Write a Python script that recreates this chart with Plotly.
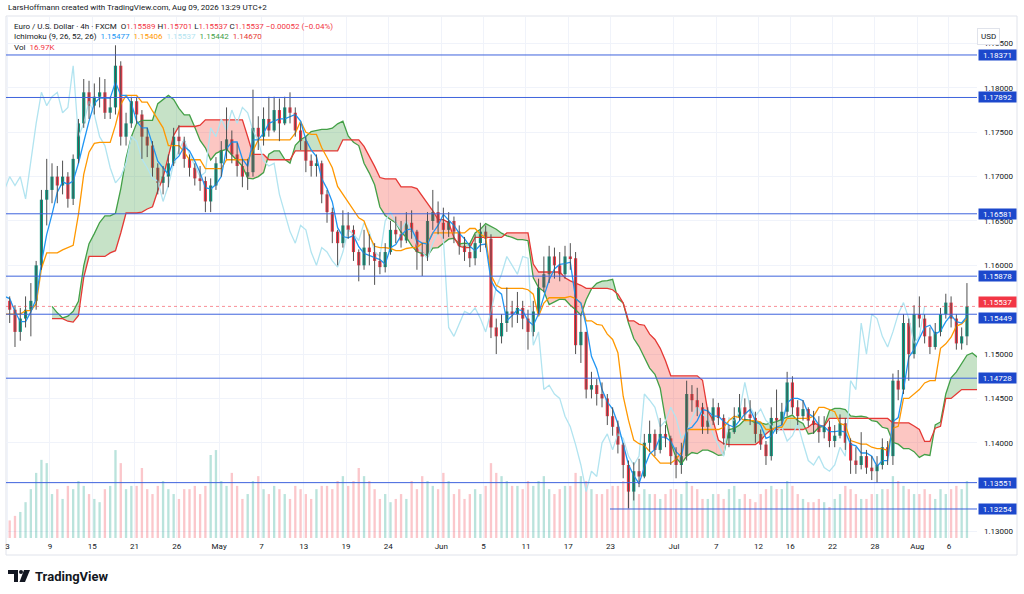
import numpy as np
import pandas as pd
import plotly.graph_objects as go

# EUR/USD, read off the chart as 12h bars (two per trading day)
# first 16 bars are the lead-in before Apr 3 (only feed the indicators)
open_first = 1.1530
close_mar = [1.1540, 1.1565, 1.1590, 1.1560, 1.1520, 1.1495, 1.1515, 1.1540, 1.1555, 1.1535,
             1.1525, 1.1550, 1.1568, 1.1555, 1.1575, 1.1560]
high_mar = [1.1565, 1.1585, 1.1598, 1.1592, 1.1570, 1.1530, 1.1535, 1.1555, 1.1570, 1.1565,
            1.1550, 1.1568, 1.1575, 1.1580, 1.1590, 1.1588]
low_mar = [1.1520, 1.1530, 1.1555, 1.1545, 1.1505, 1.1482, 1.1488, 1.1505, 1.1530, 1.1515,
           1.1500, 1.1518, 1.1540, 1.1540, 1.1545, 1.1545]

close_apr = [1.1550, 1.1525, 1.1540, 1.1550, 1.1560, 1.1600, 1.1674, 1.1685, 1.1700, 1.1690,
             1.1700, 1.1675, 1.1720, 1.1760, 1.1795, 1.1780, 1.1790, 1.1795, 1.1772, 1.1778,
             1.1825, 1.1745, 1.1760, 1.1785, 1.1770, 1.1745, 1.1735, 1.1710, 1.1693, 1.1700,
             1.1715, 1.1745, 1.1740, 1.1720, 1.1710, 1.1698, 1.1695, 1.1672, 1.1690, 1.1715]
high_apr = [1.1565, 1.1555, 1.1552, 1.1565, 1.1580, 1.1605, 1.1685, 1.1720, 1.1715, 1.1712,
            1.1718, 1.1705, 1.1725, 1.1765, 1.1810, 1.1808, 1.1805, 1.1812, 1.1810, 1.1790,
            1.1848, 1.1830, 1.1772, 1.1790, 1.1790, 1.1775, 1.1755, 1.1740, 1.1715, 1.1712,
            1.1725, 1.1755, 1.1758, 1.1745, 1.1725, 1.1715, 1.1712, 1.1700, 1.1698, 1.1722]
low_apr = [1.1535, 1.1508, 1.1515, 1.1530, 1.1520, 1.1550, 1.1595, 1.1645, 1.1670, 1.1670,
           1.1680, 1.1665, 1.1668, 1.1715, 1.1755, 1.1765, 1.1770, 1.1778, 1.1765, 1.1765,
           1.1770, 1.1735, 1.1735, 1.1755, 1.1760, 1.1720, 1.1722, 1.1700, 1.1680, 1.1680,
           1.1688, 1.1712, 1.1725, 1.1710, 1.1700, 1.1690, 1.1684, 1.1660, 1.1660, 1.1685]

close_may = [1.1730, 1.1742, 1.1725, 1.1712, 1.1700, 1.1705, 1.1755, 1.1745, 1.1765, 1.1752,
             1.1775, 1.1760, 1.1778, 1.1772, 1.1752, 1.1740, 1.1718, 1.1712, 1.1715, 1.1680,
             1.1660, 1.1638, 1.1625, 1.1645, 1.1640, 1.1615, 1.1600, 1.1620, 1.1615, 1.1605,
             1.1598, 1.1615, 1.1640, 1.1635, 1.1628, 1.1648, 1.1638, 1.1615, 1.1610, 1.1650,
             1.1660, 1.1648]
high_may = [1.1740, 1.1778, 1.1752, 1.1738, 1.1720, 1.1720, 1.1798, 1.1768, 1.1778, 1.1790,
            1.1790, 1.1788, 1.1790, 1.1795, 1.1778, 1.1760, 1.1745, 1.1725, 1.1725, 1.1718,
            1.1685, 1.1665, 1.1640, 1.1662, 1.1660, 1.1645, 1.1618, 1.1640, 1.1635, 1.1625,
            1.1615, 1.1625, 1.1650, 1.1655, 1.1650, 1.1660, 1.1662, 1.1640, 1.1625, 1.1660,
            1.1685, 1.1672]
low_may = [1.1700, 1.1720, 1.1715, 1.1700, 1.1688, 1.1685, 1.1700, 1.1730, 1.1735, 1.1745,
           1.1750, 1.1740, 1.1758, 1.1760, 1.1745, 1.1730, 1.1705, 1.1700, 1.1700, 1.1670,
           1.1648, 1.1625, 1.1600, 1.1620, 1.1630, 1.1605, 1.1582, 1.1595, 1.1600, 1.1578,
           1.1590, 1.1592, 1.1612, 1.1625, 1.1620, 1.1625, 1.1630, 1.1595, 1.1588, 1.1605,
           1.1640, 1.1635]

close_jun = [1.1640, 1.1650, 1.1638, 1.1622, 1.1615, 1.1608, 1.1625, 1.1638, 1.1630, 1.1530,
             1.1520, 1.1535, 1.1548, 1.1545, 1.1552, 1.1540, 1.1525, 1.1548, 1.1575, 1.1590,
             1.1610, 1.1600, 1.1590, 1.1610, 1.1608, 1.1510, 1.1525, 1.1460, 1.1465, 1.1455,
             1.1450, 1.1430, 1.1418, 1.1398, 1.1375, 1.1345, 1.1368, 1.1362, 1.1400, 1.1410,
             1.1392, 1.1410, 1.1405, 1.1385]
high_jun = [1.1665, 1.1660, 1.1655, 1.1645, 1.1632, 1.1625, 1.1635, 1.1648, 1.1645, 1.1635,
            1.1540, 1.1545, 1.1575, 1.1560, 1.1570, 1.1560, 1.1550, 1.1560, 1.1585, 1.1610,
            1.1622, 1.1620, 1.1615, 1.1622, 1.1625, 1.1615, 1.1545, 1.1525, 1.1480, 1.1472,
            1.1468, 1.1455, 1.1440, 1.1425, 1.1400, 1.1380, 1.1378, 1.1382, 1.1410, 1.1425,
            1.1415, 1.1428, 1.1420, 1.1408]
low_jun = [1.1630, 1.1632, 1.1625, 1.1612, 1.1605, 1.1598, 1.1600, 1.1615, 1.1620, 1.1518,
           1.1500, 1.1512, 1.1525, 1.1530, 1.1535, 1.1528, 1.1505, 1.1520, 1.1545, 1.1570,
           1.1580, 1.1585, 1.1582, 1.1585, 1.1595, 1.1500, 1.1490, 1.1450, 1.1450, 1.1442,
           1.1440, 1.1420, 1.1408, 1.1388, 1.1360, 1.1326, 1.1335, 1.1350, 1.1360, 1.1390,
           1.1385, 1.1388, 1.1395, 1.1375]

close_jul = [1.1375, 1.1385, 1.1455, 1.1448, 1.1440, 1.1418, 1.1425, 1.1440, 1.1428, 1.1405,
             1.1412, 1.1428, 1.1440, 1.1432, 1.1428, 1.1410, 1.1398, 1.1385, 1.1428, 1.1425,
             1.1435, 1.1468, 1.1440, 1.1430, 1.1438, 1.1425, 1.1420, 1.1412, 1.1418, 1.1402,
             1.1408, 1.1422, 1.1400, 1.1380, 1.1375, 1.1385, 1.1372, 1.1368, 1.1375, 1.1395,
             1.1385, 1.1470, 1.1460, 1.1535, 1.1500, 1.1545]
high_jul = [1.1395, 1.1400, 1.1470, 1.1465, 1.1462, 1.1445, 1.1440, 1.1450, 1.1445, 1.1432,
            1.1420, 1.1440, 1.1455, 1.1450, 1.1448, 1.1435, 1.1415, 1.1402, 1.1440, 1.1460,
            1.1445, 1.1480, 1.1475, 1.1448, 1.1448, 1.1440, 1.1436, 1.1430, 1.1430, 1.1425,
            1.1420, 1.1432, 1.1428, 1.1405, 1.1395, 1.1412, 1.1392, 1.1385, 1.1385, 1.1405,
            1.1402, 1.1478, 1.1482, 1.1545, 1.1540, 1.1555]
low_jul = [1.1360, 1.1365, 1.1380, 1.1435, 1.1430, 1.1410, 1.1410, 1.1420, 1.1420, 1.1398,
           1.1395, 1.1410, 1.1425, 1.1425, 1.1420, 1.1400, 1.1392, 1.1375, 1.1380, 1.1410,
           1.1420, 1.1430, 1.1432, 1.1420, 1.1425, 1.1418, 1.1410, 1.1400, 1.1405, 1.1395,
           1.1395, 1.1405, 1.1392, 1.1365, 1.1365, 1.1370, 1.1365, 1.1358, 1.1355, 1.1370,
           1.1375, 1.1375, 1.1448, 1.1455, 1.1470, 1.1495]

close_aug = [1.1540, 1.1520, 1.1508, 1.1525, 1.1545, 1.1558, 1.1540, 1.1512, 1.1520, 1.15537]
high_aug = [1.1565, 1.1545, 1.1530, 1.1535, 1.1552, 1.1568, 1.1565, 1.1545, 1.1530, 1.1580]
low_aug = [1.1530, 1.1512, 1.1500, 1.1505, 1.1520, 1.1540, 1.1530, 1.1505, 1.1505, 1.1510]

# volume (K) per 12h bar from Apr 3
vol_apr = [5.4, 6.8, 8, 11, 15, 20, 24, 23, 13.5, 15, 12, 16, 15, 17.5, 16, 13.5, 12, 11, 15, 16,
           27, 23, 15, 16, 16, 21.5, 15, 13.5, 16, 17.5, 15, 13.5, 12, 15, 15, 16, 13.5, 16, 25.5, 27]
vol_may = [17.5, 16, 20, 16, 12, 13.5, 17.5, 19, 15, 13.5, 16, 15, 13.5, 12, 16, 15, 13.5, 12, 15, 16,
           16, 15, 17.5, 19, 16, 17.5, 21.5, 19, 17.5, 15, 12, 13.5, 11, 12, 13.5, 12, 17.5, 15, 19, 17.5,
           16, 15]
vol_jun = [20, 17.5, 13.5, 15, 12, 13.5, 15, 13.5, 16, 23, 20, 19, 17.5, 16, 16, 15, 17.5, 16,
           17.5, 19, 15, 13.5, 15, 16, 16, 20, 19, 17.5, 15, 13.5, 13.5, 15, 16, 16, 17.5, 19, 15, 13.5,
           15, 13.5, 13.5, 12, 13.5, 15]
vol_jul = [15, 13.5, 17.5, 16, 15, 12, 12, 13.5, 13.5, 12, 15, 16, 12, 13.5,
           12, 11, 13.5, 15, 16, 15, 15, 17.5, 16, 13.5, 12, 11, 11, 12, 11, 9.5, 12, 13.5, 16, 15,
           13.5, 12, 12, 13.5, 13.5, 15, 15, 19, 17.5, 16, 15, 13.5]
vol_aug = [13.5, 15, 13.5, 12, 15, 13.5, 15, 16, 15, 17.5]

tick_dates = ["2026-04-03", "2026-04-09", "2026-04-15", "2026-04-21", "2026-04-27", "2026-05-01",
              "2026-05-07", "2026-05-13", "2026-05-19", "2026-05-25", "2026-06-01", "2026-06-05",
              "2026-06-11", "2026-06-17", "2026-06-23", "2026-07-01", "2026-07-07", "2026-07-13",
              "2026-07-16", "2026-07-22", "2026-07-28", "2026-08-03", "2026-08-06"]
tick_text = ["3", "9", "15", "21", "26", "May", "7", "13", "19", "24", "Jun", "5", "11", "17", "23",
             "Jul", "7", "12", "16", "22", "28", "Aug", "6"]

# price ticks (1.13500 and 1.15500 sit under the price labels in the original)
price_ticks = [1.130, 1.140, 1.145, 1.150, 1.160, 1.165, 1.170, 1.175, 1.180, 1.185]

levels = [1.18371, 1.17892, 1.16581, 1.15878, 1.15449, 1.14728, 1.13551, 1.13254]
level_from = [None, None, None, None, None, None, None, "2026-06-23"]
last_price = 1.15537

# ---- build series ----
closes = np.array(close_mar + close_apr + close_may + close_jun + close_jul + close_aug)
highs = np.array(high_mar + high_apr + high_may + high_jun + high_jul + high_aug)
lows = np.array(low_mar + low_apr + low_may + low_jun + low_jul + low_aug)
opens = np.r_[open_first, closes[:-1]]
volumes = np.array(vol_apr + vol_may + vol_jun + vol_jul + vol_aug)

days = pd.bdate_range("2026-03-24", "2026-08-07")
lead = 8
x = np.repeat(np.arange(len(days)) - lead, 2) + np.tile([0.25, 0.75], len(days))
main = slice(2 * lead, None)
tickvals = [days.get_loc(pd.Timestamp(d)) - lead + 0.05 for d in tick_dates]

# ichimoku on 12h bars (9/26/52/26 on 4h ~ 3/9/17/8 here)
hs, ls = pd.Series(highs), pd.Series(lows)


def midline(n):
    return ((hs.rolling(n).max() + ls.rolling(n).min()) / 2).to_numpy()


tenkan = midline(3)
kijun = midline(9)
span_a = (tenkan + kijun) / 2
span_b = midline(17)
shift_days = 4.0
ok = ~np.isnan(span_b)
xs, sa, sb = x[ok] + shift_days, span_a[ok], span_b[ok]

# cloud polygons, split where the spans cross
pts = []
for k in range(len(xs)):
    if k > 0:
        d0, d1 = sa[k - 1] - sb[k - 1], sa[k] - sb[k]
        if d0 * d1 < 0:
            t = d0 / (d0 - d1)
            xc = xs[k - 1] + t * (xs[k] - xs[k - 1])
            yc = sa[k - 1] + t * (sa[k] - sa[k - 1])
            pts.append((xc, yc, yc))
    pts.append((xs[k], sa[k], sb[k]))

runs, cur, cur_sign = [], [], 0
for p in pts:
    s = np.sign(p[1] - p[2])
    cur.append(p)
    if s == 0:
        if cur_sign != 0 and len(cur) > 1:
            runs.append((cur_sign, cur))
        cur, cur_sign = [p], 0
    elif cur_sign == 0:
        cur_sign = s
if cur_sign != 0 and len(cur) > 1:
    runs.append((cur_sign, cur))

cloud = {1: ([], []), -1: ([], [])}
for s, run in runs:
    px_ = [p[0] for p in run]
    cloud[s][0].extend(px_ + px_[::-1] + [None])
    cloud[s][1].extend([p[1] for p in run] + [p[2] for p in run][::-1] + [None])

fig = go.Figure()

# volume (base y axis, drawn underneath)
up = closes[main] >= opens[main]
fig.add_trace(go.Bar(x=x[main], y=volumes, width=0.22,
                     marker_color=np.where(up, "rgba(8,153,129,0.28)", "rgba(242,54,69,0.28)"),
                     marker_line_width=0, yaxis="y"))

fig.add_trace(go.Scatter(x=cloud[1][0], y=cloud[1][1], fill="toself", mode="lines",
                         line_width=0, fillcolor="rgba(67,160,71,0.3)", yaxis="y2"))
fig.add_trace(go.Scatter(x=cloud[-1][0], y=cloud[-1][1], fill="toself", mode="lines",
                         line_width=0, fillcolor="rgba(244,67,54,0.3)", yaxis="y2"))
fig.add_trace(go.Scatter(x=xs, y=sa, mode="lines", line=dict(color="#43a047", width=1.3), yaxis="y2"))
fig.add_trace(go.Scatter(x=xs, y=sb, mode="lines", line=dict(color="#e53935", width=1.3), yaxis="y2"))
fig.add_trace(go.Scatter(x=x - shift_days, y=closes, mode="lines",
                         line=dict(color="#b2e4f0", width=1.3), yaxis="y2"))
fig.add_trace(go.Scatter(x=x, y=kijun, mode="lines", line=dict(color="#ff9800", width=1.3), yaxis="y2"))
fig.add_trace(go.Scatter(x=x, y=tenkan, mode="lines", line=dict(color="#2196f3", width=1.3), yaxis="y2"))

# candles: wicks then bodies
wx, wy = [], []
for xi, h, l in zip(x, highs, lows):
    wx += [xi, xi, None]
    wy += [l, h, None]
fig.add_trace(go.Scatter(x=wx, y=wy, mode="lines", line=dict(color="#505050", width=1), yaxis="y2"))
body_lo = np.minimum(opens, closes)
body_h = np.maximum(np.abs(closes - opens), 0.00004)
fig.add_trace(go.Bar(x=x, y=body_h, base=body_lo, width=0.3,
                     marker_color=np.where(closes >= opens, "#089981", "#f23645"),
                     marker_line_width=0, yaxis="y2"))

# ---- horizontal levels ----
for lv, start in zip(levels, level_from):
    if start is None:
        fig.add_shape(type="line", xref="paper", x0=0, x1=1, yref="y2", y0=lv, y1=lv,
                      line=dict(color="#3e63dd", width=1))
    else:
        x0 = days.get_loc(pd.Timestamp(start)) - lead
        fig.add_shape(type="line", xref="x", x0=x0, x1=200, yref="y2", y0=lv, y1=lv,
                      line=dict(color="#3e63dd", width=1))
fig.add_shape(type="line", xref="paper", x0=0, x1=1, yref="y2", y0=last_price, y1=last_price,
              line=dict(color="rgba(242,54,69,0.55)", width=1, dash="dot"))

font = "Roboto, 'Noto Sans', sans-serif"
for lv in levels:
    fig.add_annotation(x=1, xref="paper", xanchor="left", xshift=1, y=lv, yref="y2",
                       yshift=-4 if lv == 1.15449 else 0,
                       text=f"{lv:.5f}", showarrow=False, bgcolor="#1c48cc",
                       font=dict(color="white", size=8, family=font), width=37, height=10, borderpad=0)
fig.add_annotation(x=1, xref="paper", xanchor="left", xshift=1, y=last_price, yref="y2", yshift=4,
                   text=f"{last_price:.5f}", showarrow=False, bgcolor="#f23645",
                   font=dict(color="white", size=8, family=font), width=37, height=10, borderpad=0)


def px(v):
    return (v - 6) / 971


def py(v):
    return (538 - v) / 521


red = "#f23645"
dark = "#131722"
legend1 = (f"Euro / U.S. Dollar · 4h · FXCM  O<span style='color:{red}'>1.15589</span> "
           f"H<span style='color:{red}'>1.15701</span> L<span style='color:{red}'>1.15537</span> "
           f"C<span style='color:{red}'>1.15537</span> <span style='color:{red}'>−0.00052 (−0.04%)</span>")
legend2 = ("Ichimoku (9, 26, 52, 26)  <span style='color:#2196f3'>1.15477</span>  "
           "<span style='color:#ff9800'>1.15406</span>  <span style='color:#b2e4f0'>1.15537</span>  "
           "<span style='color:#43a047'>1.15442</span>  <span style='color:#e53935'>1.14670</span>")
legend3 = f"Vol  <span style='color:{red}'>16.97K</span>"
for txt, xx, yy in [("LarsHoffmann created with TradingView.com, Aug 09, 2026 13:29 UTC+2", 6, 8),
                    (legend1, 12, 26), (legend2, 12, 37), (legend3, 12, 48)]:
    fig.add_annotation(x=px(xx), y=py(yy), xref="paper", yref="paper", xanchor="left", yanchor="middle",
                       text=txt, showarrow=False, font=dict(color=dark, size=8, family=font))

fig.add_annotation(x=px(1000), y=py(28), xref="paper", yref="paper", text="USD", showarrow=False,
                   font=dict(color=dark, size=8, family=font), bordercolor="#e0e3eb", borderwidth=1,
                   borderpad=3, bgcolor="white")

# TradingView wordmark
fig.add_annotation(x=px(33), y=py(576), xref="paper", yref="paper", xanchor="left", yanchor="middle",
                   text="<b>TradingView</b>", showarrow=False, font=dict(color=dark, size=13, family=font))
fig.add_shape(type="path", xref="paper", yref="paper", line_width=0, fillcolor=dark,
              path=(f"M {px(8)},{py(570)} L {px(18)},{py(570)} L {px(18)},{py(582)} L {px(14)},{py(582)} "
                    f"L {px(14)},{py(574)} L {px(8)},{py(574)} Z"))
fig.add_shape(type="circle", xref="paper", yref="paper", line_width=0, fillcolor=dark,
              x0=px(19), x1=px(23), y0=py(574), y1=py(570))
fig.add_shape(type="path", xref="paper", yref="paper", line_width=0, fillcolor=dark,
              path=f"M {px(24)},{py(570)} L {px(30)},{py(570)} L {px(25)},{py(582)} L {px(19.5)},{py(582)} Z")

# outer frame
fig.add_shape(type="rect", xref="paper", yref="paper", x0=0, x1=px(1017), y0=py(555), y1=py(16),
              line=dict(color="#e0e3eb", width=1), layer="below")

fig.update_layout(
    width=1024, height=594, margin=dict(l=6, r=47, t=17, b=56),
    paper_bgcolor="white", plot_bgcolor="white", showlegend=False, barmode="overlay",
    font=dict(family=font, color=dark, size=8),
    xaxis=dict(range=[-0.1, 91.7], tickvals=tickvals, ticktext=tick_text, showgrid=True,
               gridcolor="#f0f3fa", zeroline=False, showline=False, ticks="",
               tickfont=dict(size=8, color=dark), ticklabelstandoff=2),
    yaxis=dict(range=[0, 160], visible=False, fixedrange=True),
    yaxis2=dict(overlaying="y", side="right", anchor="x", range=[1.12927, 1.18799],
                tickvals=price_ticks, tickformat=".5f",
                showgrid=True, gridcolor="#f0f3fa", zeroline=False, ticks="",
                tickfont=dict(size=8, color=dark), ticklabelstandoff=6),
)

# the page's default body margin would shift the figure by 8px
fig.write_html("out.html", config={"displayModeBar": False},
               post_script="document.body.style.margin='0';")
